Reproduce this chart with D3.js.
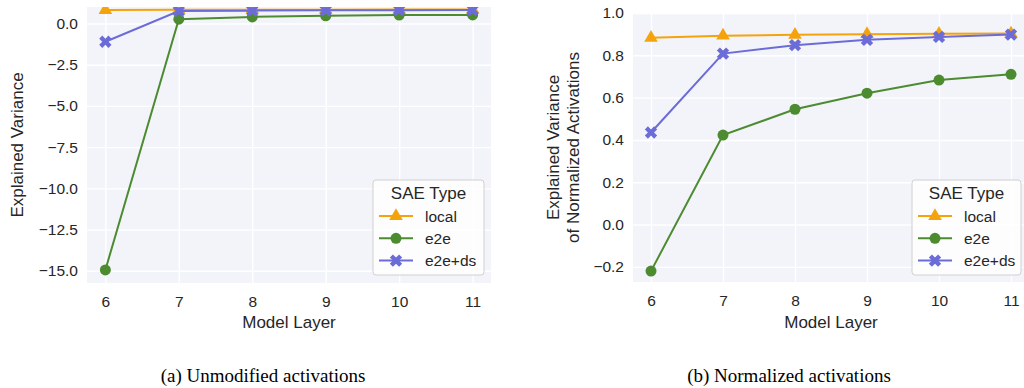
<!DOCTYPE html>
<html><head><meta charset="utf-8">
<script src="https://cdn.jsdelivr.net/npm/d3@7"></script>
<style>body{margin:0;background:#fff}svg{display:block}</style>
</head><body>
<svg id="c" width="1024" height="388"></svg>
<script>
const layers = [6, 7, 8, 9, 10, 11];
const seriesNames = ["local", "e2e", "e2e+ds"];
// (a) Unmodified activations
const unmodLocal = [0.82, 0.83, 0.84, 0.84, 0.85, 0.85];
const unmodE2e = [-14.95, 0.26, 0.40, 0.47, 0.51, 0.52];
const unmodE2eDs = [-1.11, 0.75, 0.78, 0.80, 0.81, 0.82];
// (b) Normalized activations
const normLocal = [0.883, 0.893, 0.897, 0.900, 0.902, 0.903];
const normE2e = [-0.22, 0.423, 0.545, 0.621, 0.683, 0.710];
const normE2eDs = [0.435, 0.808, 0.848, 0.873, 0.887, 0.898];
const yTicksA = [0, -2.5, -5, -7.5, -10, -12.5, -15];
const yTicksB = [-0.2, 0, 0.2, 0.4, 0.6, 0.8, 1.0];
const colors = ["#f5a30c", "#4d8b31", "#6c6cd8"];
const symbols = ["triangle", "circle", "x"];

const svg = d3.select("#c");
const font = "'Liberation Sans', Arial, sans-serif";
const minus = s => s.replace("-", "\u2212");

function panel(cfg) {
  const {x0, x1, y0, y1, yDomain, yTicks, yFmt, data, id, ylabel, caption, capX, ylabX} = cfg;
  const x = d3.scaleLinear().domain([5.75, 11.25]).range([x0, x1]);
  const y = d3.scaleLinear().domain(yDomain).range([y1, y0]);
  const g = svg.append("g");
  svg.append("clipPath").attr("id", id).append("rect")
    .attr("x", x0).attr("y", y0).attr("width", x1 - x0).attr("height", y1 - y0);
  g.append("rect").attr("x", x0).attr("y", y0).attr("width", x1 - x0).attr("height", y1 - y0)
    .attr("fill", "#f3f4fa");
  const xa = d3.axisBottom(x).tickValues(layers).tickSize(-(y1 - y0)).tickPadding(10).tickFormat(d3.format("d"));
  const gx = g.append("g").attr("transform", `translate(0,${y1})`).call(xa);
  const ya = d3.axisLeft(y).tickValues(yTicks).tickSize(-(x1 - x0)).tickPadding(9).tickFormat(d => minus(yFmt(d)));
  const gy = g.append("g").attr("transform", `translate(${x0},0)`).call(ya);
  [gx, gy].forEach(a => {
    a.select(".domain").remove();
    a.selectAll(".tick line").attr("stroke", "#fff").attr("stroke-width", 1.4);
    a.selectAll(".tick text").attr("fill", "#262626").attr("font-size", 15.5).attr("font-family", font);
  });
  gx.selectAll(".tick text").attr("dy", "0.9em");
  const plot = g.append("g").attr("clip-path", `url(#${id})`);
  const line = d3.line().x((d, i) => x(layers[i])).y(d => y(d));
  data.forEach((vals, si) => {
    plot.append("path").attr("d", line(vals)).attr("fill", "none")
      .attr("stroke", colors[si]).attr("stroke-width", 2);
    vals.forEach((v, i) => drawMarker(plot, x(layers[i]), y(v), si));
  });
  svg.append("text").attr("x", (x0 + x1) / 2).attr("y", 328).attr("text-anchor", "middle")
    .attr("font-family", font).attr("font-size", 17).attr("fill", "#262626").text("Model Layer");
  const yc = (y0 + y1) / 2;
  ylabel.forEach((t, k) => {
    svg.append("text").attr("transform", `translate(${ylabX[k]},${yc}) rotate(-90)`)
      .attr("text-anchor", "middle").attr("font-family", font).attr("font-size", 17)
      .attr("fill", "#262626").text(t);
  });
  const lx = cfg.legX, ly = 180, lw = cfg.legW, lh = 95;
  const lg = svg.append("g");
  lg.append("rect").attr("x", lx).attr("y", ly).attr("width", lw).attr("height", lh)
    .attr("rx", 3).attr("fill", "#ffffff").attr("fill-opacity", 0.8)
    .attr("stroke", "#d0d0d0").attr("stroke-width", 1);
  lg.append("text").attr("x", lx + lw / 2).attr("y", ly + 19).attr("text-anchor", "middle")
    .attr("font-family", font).attr("font-size", 17).attr("fill", "#262626").text("SAE Type");
  seriesNames.forEach((n, si) => {
    const yy = ly + 36 + si * 22.3;
    lg.append("line").attr("x1", lx + 6).attr("x2", lx + 40).attr("y1", yy).attr("y2", yy)
      .attr("stroke", colors[si]).attr("stroke-width", 2);
    drawMarker(lg, lx + 23, yy, si);
    lg.append("text").attr("x", lx + 52).attr("y", yy + 5.5).attr("font-family", font)
      .attr("font-size", 15.5).attr("fill", "#262626").text(n);
  });
  svg.append("text").attr("x", capX).attr("y", 382).attr("text-anchor", "middle")
    .attr("font-family", "'Liberation Serif', 'Times New Roman', serif").attr("font-size", 19)
    .attr("fill", "#000").text(caption);
}

function drawMarker(g, cx, cy, si) {
  const t = symbols[si];
  if (t === "circle") {
    g.append("circle").attr("cx", cx).attr("cy", cy).attr("r", 5.5).attr("fill", colors[si]);
  } else if (t === "triangle") {
    g.append("path").attr("d", d3.symbol(d3.symbolTriangle, 80)()).attr("transform", `translate(${cx},${cy})`)
      .attr("fill", colors[si]);
  } else {
    g.append("path").attr("d", d3.symbol(d3.symbolCross, 95)()).attr("transform", `translate(${cx},${cy}) rotate(45)`)
      .attr("fill", colors[si]);
  }
}

panel({x0: 87, x1: 491, y0: 7, y1: 283, yDomain: [-15.74, 1.0], yTicks: yTicksA, yFmt: d3.format(".1f"),
  data: [unmodLocal, unmodE2e, unmodE2eDs], id: "ca", ylabel: ["Explained Variance"], ylabX: [23],
  caption: "(a) Unmodified activations", capX: 263, legX: 373, legW: 111});
panel({x0: 633, x1: 1029, y0: 13, y1: 282, yDomain: [-0.2715, 1.0], yTicks: yTicksB, yFmt: d3.format(".1f"),
  data: [normLocal, normE2e, normE2eDs], id: "cb", ylabel: ["Explained Variance", "of Normalized Activations"], ylabX: [559, 579],
  caption: "(b) Normalized activations", capX: 789, legX: 912, legW: 109});
</script>
</body></html>
